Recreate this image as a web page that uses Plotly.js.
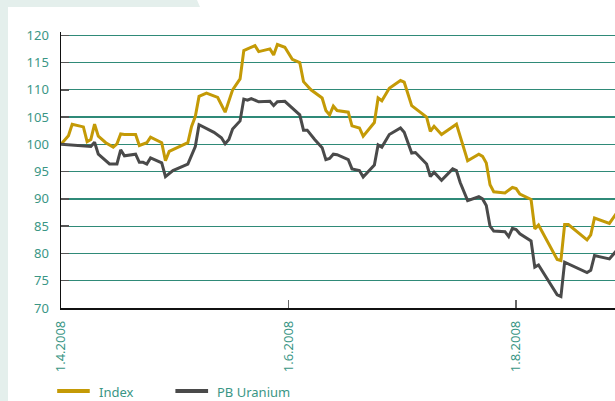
<!DOCTYPE html>
<html>
<head>
<meta charset="utf-8">
<script src="https://cdn.plot.ly/plotly-3.0.1.min.js"></script>
<style>
  html, body { margin: 0; padding: 0; background: #ffffff; }
  #wrap { position: relative; width: 615px; height: 401px; background: #e4efec; overflow: hidden; }
  #panel { position: absolute; left: 0; top: 0; width: 615px; height: 401px; background: #ffffff;
           clip-path: polygon(8px 7px, 200px 7px, 197px 0px, 615px 0px, 615px 401px, 8px 401px); }
  #chart { position: absolute; left: 0; top: 0; width: 615px; height: 401px; }
</style>
</head>
<body>
<div id="wrap"><div id="panel"></div><div id="chart"></div></div>
<script>
// ---- data ----
const indexDates = ["2008-04-01","2008-04-03","2008-04-04","2008-04-07","2008-04-08","2008-04-09","2008-04-10","2008-04-11","2008-04-13","2008-04-15","2008-04-16","2008-04-17","2008-04-18","2008-04-21","2008-04-22","2008-04-24","2008-04-25","2008-04-28","2008-04-29","2008-04-30","2008-05-05","2008-05-06","2008-05-07","2008-05-08","2008-05-10","2008-05-13","2008-05-15","2008-05-17","2008-05-19","2008-05-20","2008-05-21","2008-05-23","2008-05-24","2008-05-27","2008-05-28","2008-05-29","2008-05-31","2008-06-02","2008-06-04","2008-06-05","2008-06-07","2008-06-10","2008-06-11","2008-06-12","2008-06-13","2008-06-14","2008-06-17","2008-06-18","2008-06-20","2008-06-21","2008-06-24","2008-06-25","2008-06-26","2008-06-28","2008-07-01","2008-07-02","2008-07-04","2008-07-08","2008-07-09","2008-07-10","2008-07-12","2008-07-16","2008-07-19","2008-07-22","2008-07-23","2008-07-24","2008-07-25","2008-07-26","2008-07-29","2008-07-31","2008-08-01","2008-08-02","2008-08-05","2008-08-06","2008-08-07","2008-08-12","2008-08-13","2008-08-14","2008-08-15","2008-08-20","2008-08-21","2008-08-22","2008-08-26","2008-08-28"];
const indexValues = [100.0,101.6,103.7,103.2,100.5,100.9,103.7,101.5,100.3,99.5,100.1,101.9,101.8,101.8,99.8,100.3,101.3,100.3,97.0,98.7,100.3,103.3,105.1,108.8,109.4,108.6,105.9,110.0,112.0,117.2,117.5,118.1,117.0,117.5,116.4,118.3,117.8,115.6,115.0,111.5,110.0,108.5,106.2,105.4,107.0,106.2,105.9,103.4,103.0,101.5,104.0,108.5,108.0,110.3,111.7,111.4,107.1,105.0,102.4,103.3,101.8,103.7,97.0,98.2,97.8,96.6,92.6,91.3,91.1,92.1,91.9,90.9,89.9,84.5,85.2,78.9,78.7,85.3,85.3,82.5,83.4,86.5,85.5,87.5];

const uraniumDates = ["2008-04-01","2008-04-03","2008-04-09","2008-04-10","2008-04-11","2008-04-14","2008-04-16","2008-04-17","2008-04-18","2008-04-21","2008-04-22","2008-04-23","2008-04-24","2008-04-25","2008-04-28","2008-04-29","2008-05-01","2008-05-05","2008-05-07","2008-05-08","2008-05-12","2008-05-14","2008-05-15","2008-05-16","2008-05-17","2008-05-19","2008-05-20","2008-05-21","2008-05-22","2008-05-24","2008-05-27","2008-05-28","2008-05-29","2008-05-31","2008-06-04","2008-06-05","2008-06-06","2008-06-08","2008-06-10","2008-06-11","2008-06-12","2008-06-13","2008-06-14","2008-06-17","2008-06-18","2008-06-20","2008-06-21","2008-06-24","2008-06-25","2008-06-26","2008-06-28","2008-07-01","2008-07-02","2008-07-04","2008-07-05","2008-07-08","2008-07-09","2008-07-10","2008-07-12","2008-07-15","2008-07-16","2008-07-17","2008-07-19","2008-07-22","2008-07-23","2008-07-24","2008-07-25","2008-07-26","2008-07-29","2008-07-30","2008-07-31","2008-08-01","2008-08-02","2008-08-05","2008-08-06","2008-08-07","2008-08-12","2008-08-13","2008-08-14","2008-08-20","2008-08-21","2008-08-22","2008-08-26","2008-08-28"];
const uraniumValues = [100.0,99.9,99.6,100.4,98.2,96.4,96.4,99.0,97.9,98.2,96.7,96.7,96.4,97.5,96.6,94.1,95.2,96.4,99.6,103.6,102.2,101.2,100.1,100.9,102.8,104.3,108.3,108.1,108.4,107.8,107.9,107.1,107.8,107.9,105.4,102.6,102.6,100.9,99.4,97.2,97.4,98.2,98.1,97.2,95.5,95.2,94.0,96.2,99.9,99.5,101.8,103.0,102.2,98.4,98.5,96.4,94.1,94.9,93.4,95.5,95.2,93.0,89.7,90.4,90.0,88.8,85.0,84.1,84.0,83.1,84.6,84.4,83.6,82.3,77.5,77.9,72.4,72.1,78.4,76.5,76.9,79.6,79.0,80.6];

const seriesNames = ["Index", "PB Uranium"];
const seriesColors = ["#c49a06", "#4a4a4a"];
const xTickVals = ["2008-04-01", "2008-06-01", "2008-08-01"];
const xTickText = ["1.4.2008", "1.6.2008", "1.8.2008"];
const yTickVals = [70, 75, 80, 85, 90, 95, 100, 105, 110, 115, 120];

// ---- chart ----
const teal = "#3a9685";
const grid = "#2f8a78";
const font = "Noto Sans, Open Sans, DejaVu Sans, sans-serif";

const traces = [
  { x: indexDates, y: indexValues, name: seriesNames[0], type: "scatter", mode: "lines",
    line: { color: seriesColors[0], width: 3 } },
  { x: uraniumDates, y: uraniumValues, name: seriesNames[1], type: "scatter", mode: "lines",
    line: { color: seriesColors[1], width: 3 } }
];

// legend drawn as keys (line sample + label) below the axis
const legendSpots = [
  { x0: -0.0069, x1: 0.0519, tx: 0.0665 },
  { x0: 0.2065, x1: 0.2655, tx: 0.2800 }
];
const legendY = -0.3007;
const legendShapes = legendSpots.map((s, i) => ({
  type: "line", xref: "paper", yref: "paper", x0: s.x0, x1: s.x1, y0: legendY, y1: legendY,
  line: { color: seriesColors[i], width: 4 }, layer: "above"
}));
const legendLabels = legendSpots.map((s, i) => ({
  xref: "paper", yref: "paper", x: s.tx, y: legendY - 0.002, xanchor: "left", yanchor: "middle",
  text: seriesNames[i], showarrow: false, borderpad: 0,
  font: { family: font, size: 13, color: teal }
}));

const layout = {
  width: 615, height: 401,
  margin: { l: 60.5, r: 0, t: 32, b: 93, autoexpand: false },
  paper_bgcolor: "rgba(0,0,0,0)",
  plot_bgcolor: "rgba(0,0,0,0)",
  font: { family: font, size: 13, color: teal },
  showlegend: false,
  xaxis: {
    type: "date", range: ["2008-04-01", "2008-08-27 12:00"],
    tickmode: "array", tickvals: xTickVals, ticktext: xTickText, tickangle: -90,
    ticks: "inside", ticklen: 8, tickwidth: 1.5, tickcolor: "#666666",
    showline: true, linecolor: "#111111", linewidth: 1.5,
    showgrid: false, zeroline: false, ticklabelstandoff: 6,
    tickfont: { family: font, size: 13, color: teal }
  },
  yaxis: {
    range: [70, 120.6], tickmode: "array", tickvals: yTickVals,
    ticks: "inside", ticklen: 8, tickwidth: 1.5, tickcolor: "#555555",
    showline: true, linecolor: "#111111", linewidth: 1.5,
    showgrid: true, gridcolor: grid, gridwidth: 1.3, zeroline: false,
    ticklabelstandoff: 8,
    tickfont: { family: font, size: 13, color: teal }
  },
  shapes: [
    { type: "rect", xref: "paper", yref: "paper", x0: 0, x1: 0.0205, y0: 0.005, y1: 1,
      fillcolor: "#ffffff", line: { width: 0 }, layer: "between" }
  ].concat(legendShapes),
  annotations: legendLabels
};

Plotly.newPlot("chart", traces, layout, { displayModeBar: false, staticPlot: true });
</script>
</body>
</html>
